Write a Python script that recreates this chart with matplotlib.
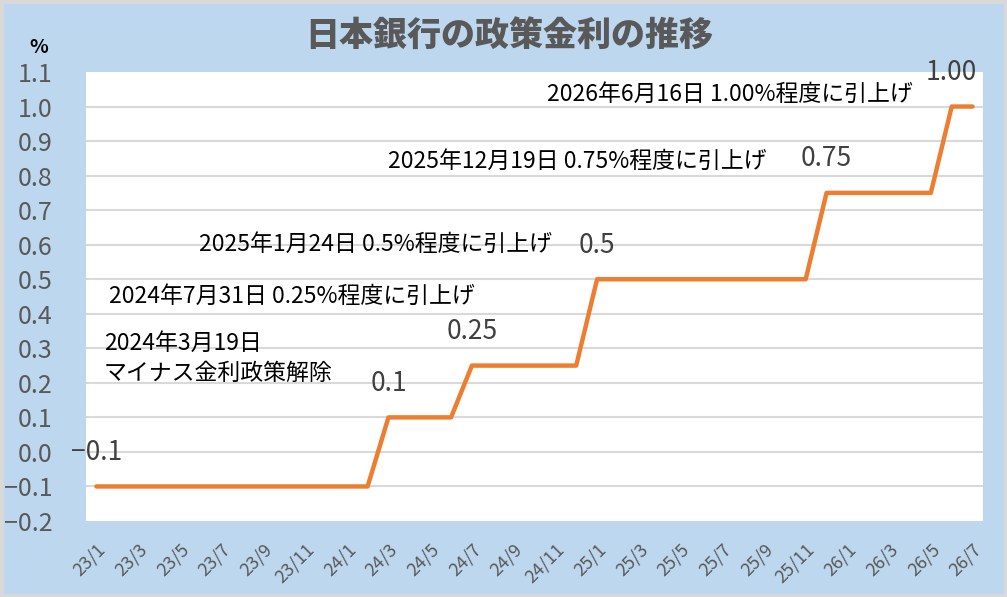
import numpy as np
import matplotlib.pyplot as plt
from matplotlib.patches import Rectangle

plt.rcParams['font.family'] = ['Noto Sans CJK JP', 'DejaVu Sans']

# monthly, 2023/1 .. 2026/7
months = [f"{y % 100}/{m}" for y in range(2023, 2027) for m in range(1, 13)][:43]
rate = ([-0.1] * 14 + [0.1] * 4 + [0.25] * 6 + [0.5] * 11 + [0.75] * 6 + [1.0] * 2)

# value labels at each hike
label_idx = [0, 14, 18, 24, 35, 41]
label_txt = ['−0.1', '0.1', '0.25', '0.5', '0.75', '1.00']

notes = [
    "2026年6月16日 1.00%程度に引上げ",
    "2025年12月19日 0.75%程度に引上げ",
    "2025年1月24日 0.5%程度に引上げ",
    "2024年7月31日 0.25%程度に引上げ",
    "2024年3月19日\nマイナス金利政策解除",
]
note_pos = [(21.6, 1.035), (14.0, 0.84), (4.9, 0.60), (0.6, 0.45), (0.35, 0.27)]

bg = '#BDD7EE'
fig = plt.figure(figsize=(10.07, 5.97), dpi=100, facecolor=bg)
fig.patches.append(Rectangle((0, 0), 1, 1, transform=fig.transFigure,
                             fill=False, edgecolor='#D9D9D9', lw=5))
ax = fig.add_axes([86 / 1007, 1 - 521 / 597, (983 - 86) / 1007, (521 - 72) / 597])
ax.set_facecolor('white')

x = np.arange(len(months))
ax.plot(x, rate, color='#ED7D31', lw=3.2, solid_capstyle='round', zorder=3)

ax.set_xlim(-0.5, len(months) - 0.5)
ax.set_ylim(-0.2, 1.1)
ax.set_yticks(np.round(np.arange(-0.2, 1.11, 0.1), 1))
ax.set_yticklabels([f"{v:.1f}".replace('-', '−') for v in np.arange(-0.2, 1.11, 0.1)])
for v in np.arange(-0.1, 1.01, 0.1):
    ax.axhline(v, color='#D9D9D9', lw=1.5, zorder=1)

ax.set_xticks(x[::2])
ax.set_xticklabels(months[::2], rotation=45, ha='right', rotation_mode='anchor')
ax.tick_params(axis='x', length=0, pad=14, labelsize=13, labelcolor='#595959')
ax.tick_params(axis='y', length=0, pad=24, labelsize=18, labelcolor='#595959')
for s in ax.spines.values():
    s.set_visible(False)

for i, t in zip(label_idx, label_txt):
    ax.annotate(t, (x[i], rate[i]), xytext=(0, 34), textcoords='offset pixels',
                ha='center', va='center', fontsize=19, color='#404040', zorder=4)

for t, (nx, ny) in zip(notes, note_pos):
    ax.text(nx, ny, t, ha='left', va='center', fontsize=16.5, color='black',
            linespacing=1.4, zorder=4)

fig.text(0.506, 0.941, "日本銀行の政策金利の推移", ha='center', va='center',
         fontsize=24.5, fontweight='heavy', color='#595959')
fig.text(0.038, 0.921, "%", ha='center', va='center', fontsize=14,
         fontweight='bold', color='black')

fig.savefig("out.png", dpi=100, facecolor=bg)
